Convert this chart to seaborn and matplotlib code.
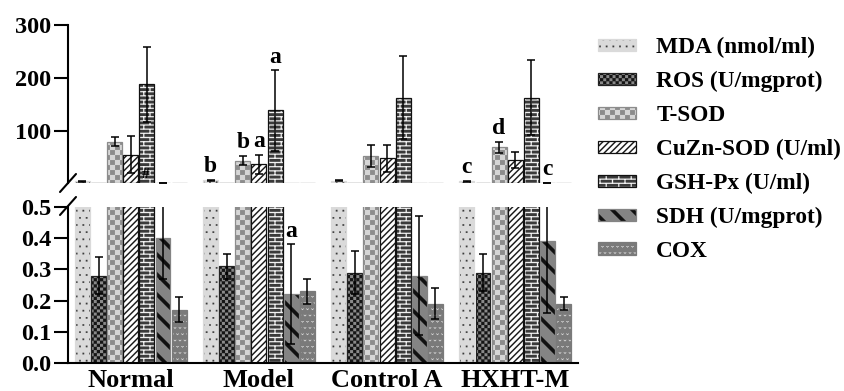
import numpy as np
import pandas as pd
import matplotlib
matplotlib.use("Agg")
import matplotlib.pyplot as plt
import matplotlib.hatch as mhatch
from matplotlib.path import Path
from matplotlib.colors import to_rgba
from matplotlib.container import BarContainer
from matplotlib.lines import Line2D
from matplotlib.ticker import FormatStrFormatter
import seaborn as sns

# ---------------------------------------------------------------- data
groups = ["Normal", "Model", "Control A", "HXHT-M"]
measures = ["MDA (nmol/ml)", "ROS (U/mgprot)", "T-SOD", "CuZn-SOD (U/ml)",
            "GSH-Px (U/ml)", "SDH (U/mgprot)", "COX"]

mda_mean = [3.5, 5.5, 5.0, 4.0]
mda_sd = [1.0, 1.2, 1.0, 1.0]
ros_mean = [0.28, 0.31, 0.29, 0.29]
ros_sd = [0.06, 0.04, 0.07, 0.06]
tsod_mean = [79, 43, 52, 68]
tsod_sd = [9, 9, 21, 10]
cuzn_mean = [54, 36, 47, 44]
cuzn_sd = [35, 18, 26, 15]
gsh_mean = [188, 138, 162, 162]
gsh_sd = [71, 76, 79, 71]
sdh_mean = [0.40, 0.22, 0.28, 0.39]
sdh_sd = [0.13, 0.16, 0.19, 0.23]
cox_mean = [0.17, 0.23, 0.19, 0.19]
cox_sd = [0.04, 0.04, 0.05, 0.02]

# significance letters: (group, measure, letter)
sig_labels = [
    ("Model", "MDA (nmol/ml)", "b"),
    ("Model", "T-SOD", "b"),
    ("Model", "CuZn-SOD (U/ml)", "a"),
    ("Model", "GSH-Px (U/ml)", "a"),
    ("Model", "SDH (U/mgprot)", "a"),
    ("HXHT-M", "MDA (nmol/ml)", "c"),
    ("HXHT-M", "T-SOD", "d"),
    ("HXHT-M", "SDH (U/mgprot)", "c"),
]

means = [mda_mean, ros_mean, tsod_mean, cuzn_mean, gsh_mean, sdh_mean, cox_mean]
sds = [mda_sd, ros_sd, tsod_sd, cuzn_sd, gsh_sd, sdh_sd, cox_sd]

df = pd.DataFrame(
    [(g, m, means[j][i]) for j, m in enumerate(measures) for i, g in enumerate(groups)],
    columns=["group", "measure", "value"],
)

# ---------------------------------------------------------------- fill patterns
def _rect(x0, y0, x1, y1):
    return np.array([[x0, y0], [x1, y0], [x1, y1], [x0, y1]])


def _checker(n):
    return [_rect(i / n, j / n, (i + 1) / n, (j + 1) / n)
            for i in range(n) for j in range(n) if (i + j) % 2 == 0]


def _dots(cols, rows, s):
    out = []
    for r in range(-1, rows + 1):
        off = 0.5 * (r % 2)
        for c in range(-1, cols + 1):
            cx, cy = (c + 0.5 + off) / cols, (r + 0.5) / rows
            out.append(_rect(cx - s, cy - s, cx + s, cy + s))
    return out


def _stripes(m, w, rising=True):
    out = []
    for k in range(-m - 1, m + 1):
        x0 = k / m
        if rising:
            out.append(np.array([[x0, 0], [x0 + w, 0], [x0 + w + 1, 1], [x0 + 1, 1]]))
        else:
            out.append(np.array([[x0, 1], [x0 + w, 1], [x0 + w + 1, 0], [x0 + 1, 0]]))
    return out


def _bricks(cols, rows, t):
    out = [_rect(0, r / rows - t / 2, 1, r / rows + t / 2) for r in range(rows + 1)]
    for r in range(rows):
        for c in range(-1, cols + 1):
            x = (c + 0.5 * (r % 2)) / cols
            out.append(_rect(x - t / 2, r / rows, x + t / 2, (r + 1) / rows))
    return out


def _vees(cols, rows, s, h, t):
    out = []
    for r in range(-1, rows + 1):
        off = 0.5 * (r % 2)
        for c in range(-1, cols + 1):
            cx, cy = (c + 0.5 + off) / cols, (r + 0.5) / rows
            out.append(np.array([
                [cx - s, cy + h / 2], [cx - s + t, cy + h / 2], [cx, cy - h / 2 + t],
                [cx + s - t, cy + h / 2], [cx + s, cy + h / 2], [cx, cy - h / 2]]))
    return out


class _TileHatch(mhatch.HatchPatternBase):
    key = None
    maker = None

    def __init__(self, hatch, density):
        self.polys = type(self).maker() if (hatch and self.key in hatch) else []
        self.num_vertices = sum(len(p) + 1 for p in self.polys)

    def set_vertices_and_codes(self, vertices, codes):
        i = 0
        for p in self.polys:
            n = len(p)
            vertices[i:i + n] = p
            vertices[i + n] = p[0]
            codes[i] = Path.MOVETO
            codes[i + 1:i + n] = Path.LINETO
            codes[i + n] = Path.CLOSEPOLY
            i += n + 1


def _tile(key, fn):
    return type("Tile_" + str(ord(key)), (_TileHatch,), {"key": key, "maker": staticmethod(fn)})


mhatch._hatch_types[:] = [
    _tile(".", lambda: _dots(15, 14, 0.008)),            # MDA: dotted
    _tile("o", lambda: _checker(32)),                    # ROS: fine checker
    _tile("O", lambda: _checker(20)),                    # T-SOD: coarse checker
    _tile("/", lambda: _stripes(16, 0.018, True)),       # CuZn-SOD: thin diagonals
    _tile("*", lambda: _bricks(8, 24, 0.011)),           # GSH-Px: bricks
    _tile("\\", lambda: _stripes(5, 0.05, False)),       # SDH: thick back-diagonals
    _tile("+", lambda: _vees(20, 16, 0.014, 0.014, 0.007)),  # COX: small v marks
]

hatches = [".", "o", "O", "/", "*", "\\", "+"]
face_colors = ["#dadada", "#8a8a8a", "#8c8c8c", "#ffffff", "#3a3a3a", "#848484", "#7a7a7a"]
hatch_colors = ["#3a3a3a", "#151515", "#d6d6d6", "#111111", "#f2f2f2", "#111111", "#ececec"]
edge_colors = ["#dadada", "#222222", "#8c8c8c", "#111111", "#111111", "#848484", "#7a7a7a"]

# ---------------------------------------------------------------- style
sns.set_theme(style="ticks")
plt.rcParams.update({
    "font.family": ["Liberation Serif", "DejaVu Serif"],
    "font.weight": "bold",
    "axes.edgecolor": "black",
    "axes.linewidth": 1.5,
    "text.color": "black",
    "xtick.color": "black",
    "ytick.color": "black",
    "hatch.linewidth": 0.1,
})

fig = plt.figure(figsize=(8.45, 3.91), dpi=100)
left, width = 68 / 845, 510 / 845
ax_top = fig.add_axes([left, 1 - 183 / 391, width, 158 / 391])
ax_bot = fig.add_axes([left, 1 - 363 / 391, width, 156 / 391])


def draw_bars(ax):
    sns.barplot(data=df, x="group", y="value", hue="measure", order=groups,
                hue_order=measures, palette=face_colors, saturation=1,
                width=0.88, gap=0.07, errorbar=None, legend=False, ax=ax)
    conts = [c for c in ax.containers if isinstance(c, BarContainer)]
    centers = {}
    for j, cont in enumerate(conts):
        for bar in cont:
            bar.set_hatch(hatches[j])
            bar.set_edgecolor(edge_colors[j])
            bar.set_linewidth(0.9)
            bar._hatch_color = to_rgba(hatch_colors[j])
            xc = bar.get_x() + bar.get_width() / 2
            centers[(int(round(xc)), j)] = xc
    return conts, centers


bars_top, centers = draw_bars(ax_top)
bars_bot, _ = draw_bars(ax_bot)

# error bars (mean ± SD); the upper panel only carries whiskers reaching above its floor
floor = 0.5
for j in range(len(measures)):
    xs = [centers[(i, j)] for i in range(len(groups))]
    m = np.array(means[j], dtype=float)
    s = np.array(sds[j], dtype=float)
    ekw = dict(fmt="none", ecolor="black", elinewidth=1.1, capsize=3, capthick=1.1, zorder=5)
    ax_bot.errorbar(xs, m, yerr=s, **ekw)
    reach = m + s >= floor
    mt = np.where(reach, m, np.nan)
    eb = ax_top.errorbar(xs, mt, yerr=s, **ekw)
    for art in eb.lines[1] + eb.lines[2]:
        art.set_clip_on(False)

for ax in (ax_top, ax_bot):
    ax.set_xlim(-0.49, 3.49)
    ax.set_xlabel("")
    ax.set_ylabel("")
    sns.despine(ax=ax)
    ax.tick_params(axis="y", length=10, width=1.5, labelsize=17.5, pad=2)

ax_top.set_ylim(floor, 300)
ax_top.set_yticks([100, 200, 300])
ax_top.spines["bottom"].set_visible(False)
ax_top.tick_params(axis="x", bottom=False, labelbottom=False)

ax_bot.set_ylim(0, 0.5)
ax_bot.set_yticks(np.arange(0, 0.51, 0.1))
ax_bot.yaxis.set_major_formatter(FormatStrFormatter("%.1f"))
ax_bot.tick_params(axis="x", length=0, labelsize=19, pad=4)

# significance letters
for g, mname, lab in sig_labels:
    i, j = groups.index(g), measures.index(mname)
    top = means[j][i] + sds[j][i]
    if top >= floor:
        ax_top.text(centers[(i, j)], max(top, floor) + 5, lab, ha="center", va="bottom",
                    fontsize=17, fontweight="bold", zorder=6)
    else:
        ax_bot.text(centers[(i, j)], top + 0.008, lab, ha="center", va="bottom",
                    fontsize=17, fontweight="bold", zorder=6)

ax_top.text(centers[(0, 4)] - 0.01, 17, "#", ha="center", va="center",
            fontsize=11, fontweight="bold", zorder=6)

# axis break marks
for yc in (183, 206):
    x0, y0 = 68 / 845, 1 - yc / 391
    dx, dy = 8 / 845, 9 / 391
    fig.add_artist(Line2D([x0 - dx, x0 + dx], [y0 - dy, y0 + dy], color="black",
                          lw=1.5, transform=fig.transFigure))

fig.legend(bars_bot, measures, loc="upper left", bbox_to_anchor=(598 / 845, 1 - 37 / 391),
           frameon=False, fontsize=16.8, handlelength=1.62, handleheight=0.42,
           handletextpad=0.88, labelspacing=0.55, borderpad=0, borderaxespad=0)

fig.savefig("out.png", dpi=100)
